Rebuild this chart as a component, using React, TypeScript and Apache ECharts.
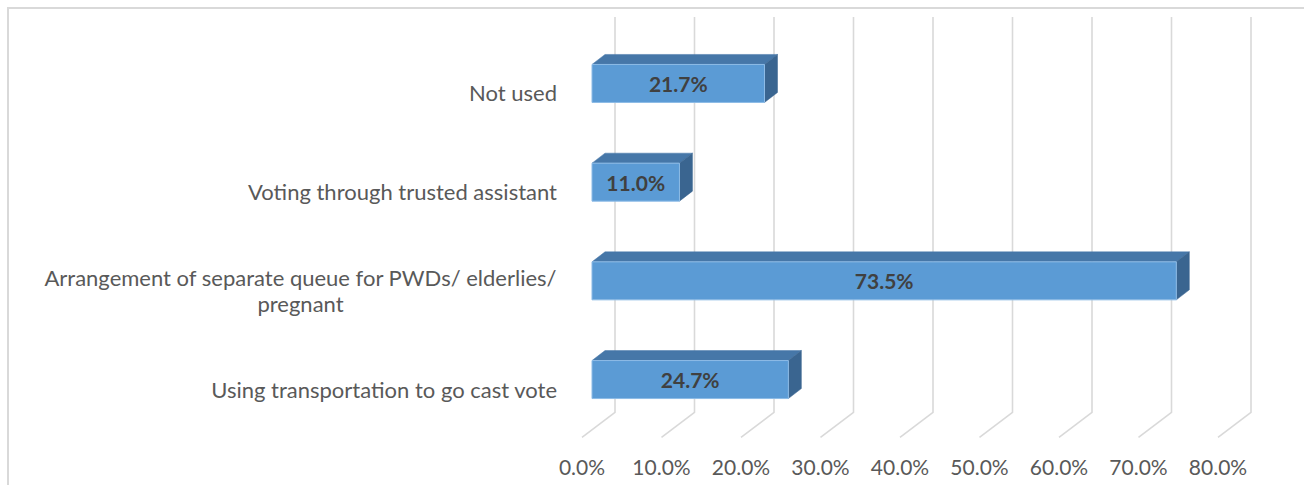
import React, { useEffect, useRef } from "react";
import * as echarts from "echarts";

// Categories listed top to bottom; "\n" marks where a long label wraps.
const categories = [
  "Not used",
  "Voting through trusted assistant",
  "Arrangement of separate queue for PWDs/ elderlies/\npregnant",
  "Using transportation to go cast vote",
];
const shares = [21.7, 11.0, 73.5, 24.7];
const tickValues = [0, 10, 20, 30, 40, 50, 60, 70, 80];

const FONT = "Lato, 'Open Sans', sans-serif";
const CAT_SIZE = 22;
const TICK_SIZE = 21;
const VALUE_SIZE = 21;
const TEXT_GRAY = "#595959";

// depth offsets of the pseudo-3D scene (floor front edge -> bar front -> bar back -> back wall)
const BAR_SHIFT = [10, -9.5];
const BAR_DEPTH = [13, -10];
const WALL_SHIFT = [33, -26];

function measure(text: string, font: string): number {
  const ctx = document.createElement("canvas").getContext("2d");
  if (!ctx) return text.length * 10;
  ctx.font = font;
  return ctx.measureText(text).width;
}

export default function App() {
  const ref = useRef<HTMLDivElement>(null);

  useEffect(() => {
    if (!ref.current) return;
    const chart = echarts.init(ref.current, undefined, { renderer: "svg" });

    const wrapWidth = Math.ceil(
      Math.max(
        ...categories
          .filter((c) => c.includes("\n"))
          .flatMap((c) => c.split("\n"))
          .map((l) => measure(l, `${CAT_SIZE}px ${FONT}`))
      )
    );

    const option: any = {
      animation: false,
      backgroundColor: "#ffffff",
      graphic: [
        {
          type: "rect",
          silent: true,
          shape: { x: 8, y: 8, width: 1400, height: 600 },
          style: { fill: "none", stroke: "#d9d9d9", lineWidth: 2 },
          z: 0,
        },
      ],
      grid: { left: 582, top: 43.6, width: 636, height: 394.8, containLabel: false },
      xAxis: {
        type: "value",
        min: 0,
        max: 80,
        interval: 10,
        axisLine: { show: false },
        axisTick: { show: false },
        splitLine: { show: false },
        axisLabel: {
          margin: 18,
          color: TEXT_GRAY,
          fontSize: TICK_SIZE,
          fontFamily: FONT,
          formatter: (v: number) => v.toFixed(1) + "%",
        },
      },
      yAxis: {
        type: "category",
        inverse: true,
        data: categories,
        axisLine: { show: false },
        axisTick: { show: false },
        splitLine: { show: false },
        axisLabel: {
          margin: 25,
          color: TEXT_GRAY,
          fontSize: CAT_SIZE,
          fontFamily: FONT,
          lineHeight: 26,
          formatter: (v: string) =>
            v.includes("\n")
              ? v
                  .split("\n")
                  .map((l) => `{c|${l}}`)
                  .join("\n")
              : v,
          rich: {
            c: {
              width: wrapWidth,
              align: "center",
              color: TEXT_GRAY,
              fontSize: CAT_SIZE,
              fontFamily: FONT,
              lineHeight: 26,
            },
          },
        },
      },
      series: [
        {
          // back-wall gridlines that fold forward onto the floor
          type: "custom",
          silent: true,
          z: 1,
          data: tickValues.map((t) => [t, 0]),
          encode: { x: 0 },
          renderItem: (params: any, api: any) => {
            const x = api.coord([api.value(0), 0])[0];
            const cs = params.coordSys;
            const bottom = cs.y + cs.height;
            return {
              type: "polyline",
              shape: {
                points: [
                  [x + WALL_SHIFT[0], 17],
                  [x + WALL_SHIFT[0], bottom + WALL_SHIFT[1]],
                  [x, bottom - 1],
                ],
              },
              style: { stroke: "#d9d9d9", lineWidth: 1.6, fill: null },
            };
          },
        },
        {
          // 3D bars: front face, top face, side face and value label
          type: "custom",
          silent: true,
          z: 3,
          data: shares.map((v, i) => [v, i]),
          encode: { x: 0, y: 1 },
          renderItem: (_params: any, api: any) => {
            const v = api.value(0);
            const i = api.value(1);
            const p0 = api.coord([0, i]);
            const p1 = api.coord([v, i]);
            const band = api.size([0, 1])[1];
            const h = band * 0.385;
            const x0 = p0[0] + BAR_SHIFT[0];
            const x1 = p1[0] + BAR_SHIFT[0];
            const yc = p0[1] + BAR_SHIFT[1];
            const top = yc - h / 2;
            const bot = yc + h / 2;
            const [dx, dy] = BAR_DEPTH;
            return {
              type: "group",
              children: [
                {
                  type: "polygon",
                  shape: {
                    points: [
                      [x0, top],
                      [x1, top],
                      [x1 + dx, top + dy],
                      [x0 + dx, top + dy],
                    ],
                  },
                  style: { fill: "#4677a8", stroke: "#4677a8", lineWidth: 0.5 },
                },
                {
                  type: "polygon",
                  shape: {
                    points: [
                      [x1, top],
                      [x1 + dx, top + dy],
                      [x1 + dx, bot + dy],
                      [x1, bot],
                    ],
                  },
                  style: { fill: "#3a6590", stroke: "#3a6590", lineWidth: 0.5 },
                },
                {
                  type: "rect",
                  shape: { x: x0, y: top, width: x1 - x0, height: h },
                  style: { fill: "#5b9bd5", stroke: "#8dbbe6", lineWidth: 1 },
                },
                {
                  type: "text",
                  x: (x0 + x1) / 2,
                  y: yc,
                  style: {
                    text: v.toFixed(1) + "%",
                    fill: "#404040",
                    font: `bold ${VALUE_SIZE}px ${FONT}`,
                    align: "center",
                    verticalAlign: "middle",
                    textAlign: "center",
                    textVerticalAlign: "middle",
                  },
                },
              ],
            };
          },
        },
      ],
    };

    chart.setOption(option);
    return () => chart.dispose();
  }, []);

  return (
    <div
      ref={ref}
      style={{ position: "absolute", left: 0, top: 0, width: 1304, height: 485, background: "#fff" }}
    />
  );
}
